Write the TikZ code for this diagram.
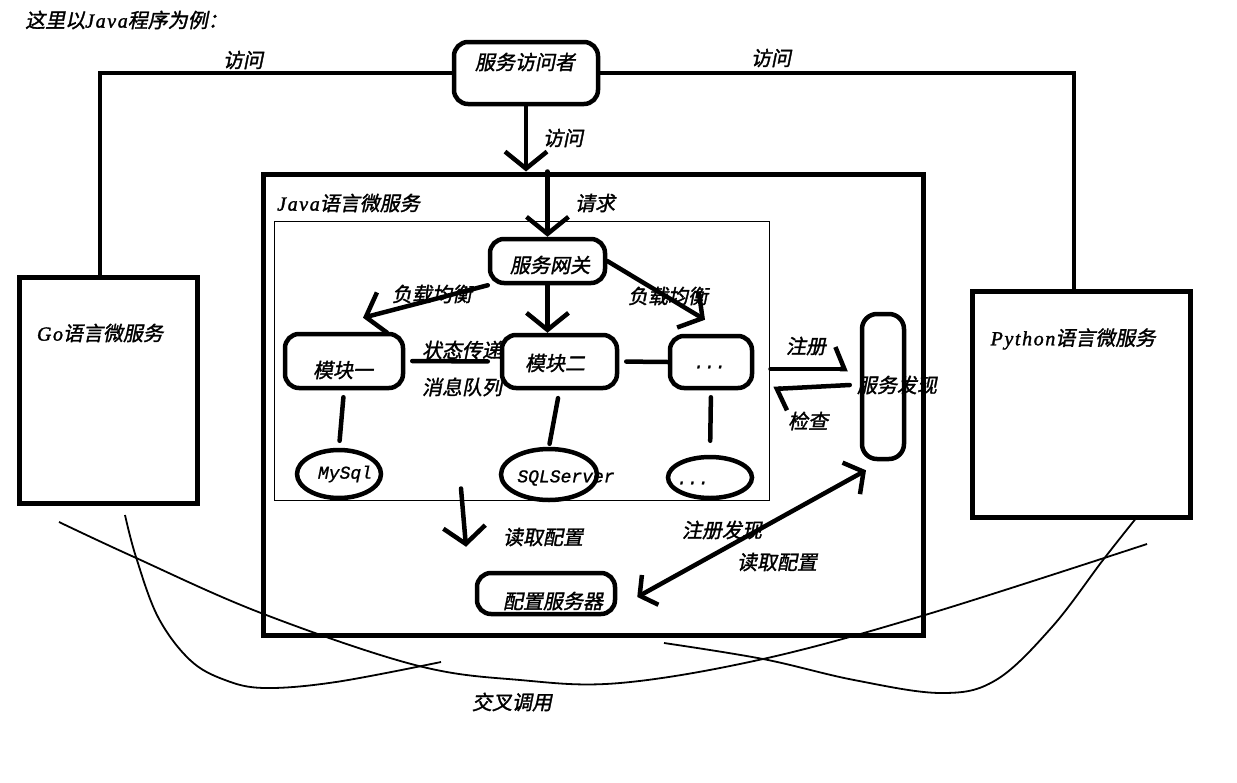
\documentclass[tikz,border=0pt]{standalone}
\usepackage{fontspec}
\setmainfont{Liberation Serif}
\newfontfamily\cjk[FakeSlant=0.2,FakeBold=1.5]{Noto Sans CJK SC}
\newfontfamily\latf[LetterSpace=8,FakeBold=1.5]{Liberation Serif}
\newfontfamily\monof[FakeBold=1]{Liberation Mono}
\usetikzlibrary{arrows.meta,shapes.geometric}
\newcommand\zhfont{\cjk\fontsize{20}{23}\selectfont}
\newcommand\la[1]{{\latf\itshape #1}}
\newcommand\mo[1]{{\monof\fontsize{18}{20}\selectfont\itshape #1}}
\tikzset{
  lbl/.style={font=\zhfont, inner sep=0pt},
  rbox/.style={draw, line width=4.5pt, rounded corners=14pt, inner sep=0pt},
  sbox/.style={draw, line width=5pt, inner sep=0pt},
  ell/.style={draw, ellipse, line width=4.5pt, inner sep=0pt},
  link/.style={line width=4.5pt, line cap=round},
  arr/.style={line width=4.5pt, line cap=round, -{Straight Barb[length=17pt,width=42pt]}},
  half/.style={line width=4.5pt, line cap=round, -{Straight Barb[left,length=9pt,width=44pt]}},
  curve/.style={line width=1.8pt},
}
\begin{document}
\begin{tikzpicture}[x=1pt,y=-1pt]
\fill[white] (0,0) rectangle (1237,782);
\useasboundingbox (0,0) rectangle (1237,782);

% title
\node[lbl, anchor=west] (title) at (25,20) {这里以\la{Java}程序为例：};

% top-level boxes
\node[rbox, minimum width=144pt, minimum height=62pt,
      label={[lbl,shift={(-1,-11)}]center:服务访问者}] (acc) at (526,73) {};
\node[sbox, minimum width=178pt, minimum height=226pt] (go) at (108.5,390.5) {};
\node[lbl] (gotext) at (100,333) {\la{Go}语言微服务};
\node[sbox, minimum width=218pt, minimum height=226pt] (py) at (1081.5,404.5) {};
\node[lbl] (pytext) at (1073,339) {\la{Python}语言微服务};
\node[sbox, minimum width=660pt, minimum height=461pt] (java) at (593,404.5) {};
\node[lbl, anchor=west] (javatext) at (277,203) {\la{Java}语言微服务};
\node[draw, line width=1pt, inner sep=0pt, minimum width=495pt, minimum height=279pt] (inner) at (521.5,360.5) {};

% inner nodes
\node[rbox, minimum width=115pt, minimum height=44pt,
      label={[lbl,shift={(2.5,4)}]center:服务网关}] (gw) at (547.5,261) {};
\node[rbox, minimum width=118pt, minimum height=54pt,
      label={[lbl,shift={(-1,9)}]center:模块一}] (m1) at (344,361) {};
\node[rbox, minimum width=115pt, minimum height=53pt,
      label={[lbl,shift={(-4.5,1.5)}]center:模块二}] (m2) at (559.5,361.5) {};
\node[rbox, minimum width=82pt, minimum height=52pt,
      label={[inner sep=0pt,shift={(-1,5)}]center:\mo{...}}] (m3) at (711,362) {};
\node[ell, minimum width=84pt, minimum height=48pt,
      label={[inner sep=0pt,shift={(6,0)}]center:\mo{MySql}}] (e1) at (339,474) {};
\node[ell, minimum width=96pt, minimum height=51pt,
      label={[inner sep=0pt,shift={(17,3.5)}]center:\mo{SQLServer}}] (e2) at (549,474.5) {};
\node[ell, minimum width=84pt, minimum height=41pt,
      label={[inner sep=0pt,shift={(-17,5.5)}]center:\mo{...}}] (e3) at (710,477.5) {};
\node[rbox, minimum width=42pt, minimum height=145pt, rounded corners=15pt,
      label={[lbl,shift={(14,-1.5)}]center:服务发现}] (sd) at (883,386.5) {};
\node[rbox, minimum width=138pt, minimum height=41pt,
      label={[lbl,shift={(7,7.5)}]center:配置服务器}] (cfg) at (546,593.5) {};

% outer connectors
\draw[link] (acc.west) -| ([xshift=-8.5pt]go.north);
\draw[link] (acc.east) -| ([xshift=-7.5pt]py.north);
\draw[arr] (acc.south) -- (acc.south |- java.north);

% inner connectors
\draw[arr] (gw.north |- java.north) -- (gw.north);
\draw[arr] (gw.south west) -- ([shift={(19,-14)}]m1.north);
\draw[arr] (gw.south) -- (gw.south |- m2.north);
\draw[arr] (gw.east) -- ([shift={(-6,-14)}]m3.north);
\draw[link, shorten <=7pt, shorten >=12pt] (m1.east) -- (m2.west);
\draw[link, shorten <=7pt] (m2.east) -- (m3.west);
\draw[link, shorten <=7pt, shorten >=7pt] (m1.south) -- (e1.north);
\draw[link, shorten <=8pt, shorten >=3pt] (m2.south) -- (e2.north);
\draw[link, shorten <=7pt, shorten >=14pt] (m3.south) -- (e3.north);

% discovery
\draw[half] ([shift={(1,8.5)}]inner.east) -- ([shift={(-12,-17.5)}]sd.west);
\draw[half] ([shift={(-10,-1.5)}]sd.west) -- ([shift={(4,28.5)}]inner.east);
\draw[line width=4.5pt, line cap=round, {Straight Barb[length=12pt,width=34pt]}-{Straight Barb[length=14pt,width=36pt]}]
  ([shift={(20,3.5)}]cfg.east) -- ([shift={(-17,9)}]sd.south);
\draw[arr] ([shift={(-60.5,-12)}]inner.south) -- ([shift={(-80,-24)}]cfg.north);

% labels
\node[lbl] (l1) at (243,60) {访问};
\node[lbl] (l2) at (771,58) {访问};
\node[lbl] (l3) at (563,138) {访问};
\node[lbl] (l4) at (595,203) {请求};
\node[lbl] (l5) at (432,294) {负载均衡};
\node[lbl] (l6) at (668,296) {负载均衡};
\node[lbl] (l7) at (462,350) {状态传递};
\node[lbl] (l8) at (462,387) {消息队列};
\node[lbl] (l9) at (806,346) {注册};
\node[lbl] (l10) at (808,421) {检查};
\node[lbl] (l11) at (543,537) {读取配置};
\node[lbl] (l12) at (722,530) {注册发现};
\node[lbl] (l13) at (777,562) {读取配置};
\node[lbl] (l14) at (512,702) {交叉调用};

% cross-call curves
\draw[curve] plot[smooth,tension=0.6] coordinates {(59,522) (134,557) (261,613) (415,665) (520,680) (620,683) (763,659) (925,615) (1147,544)};
\draw[curve] plot[smooth,tension=0.6] coordinates {(125,515) (136,557) (158,617) (190,660) (225,680) (265,688) (336,682) (441,662)};
\draw[curve] plot[smooth,tension=0.6] coordinates {(664,643) (763,659) (854,680) (941,693) (996,680) (1052,627) (1103,560) (1137,517)};
\end{tikzpicture}
\end{document}
